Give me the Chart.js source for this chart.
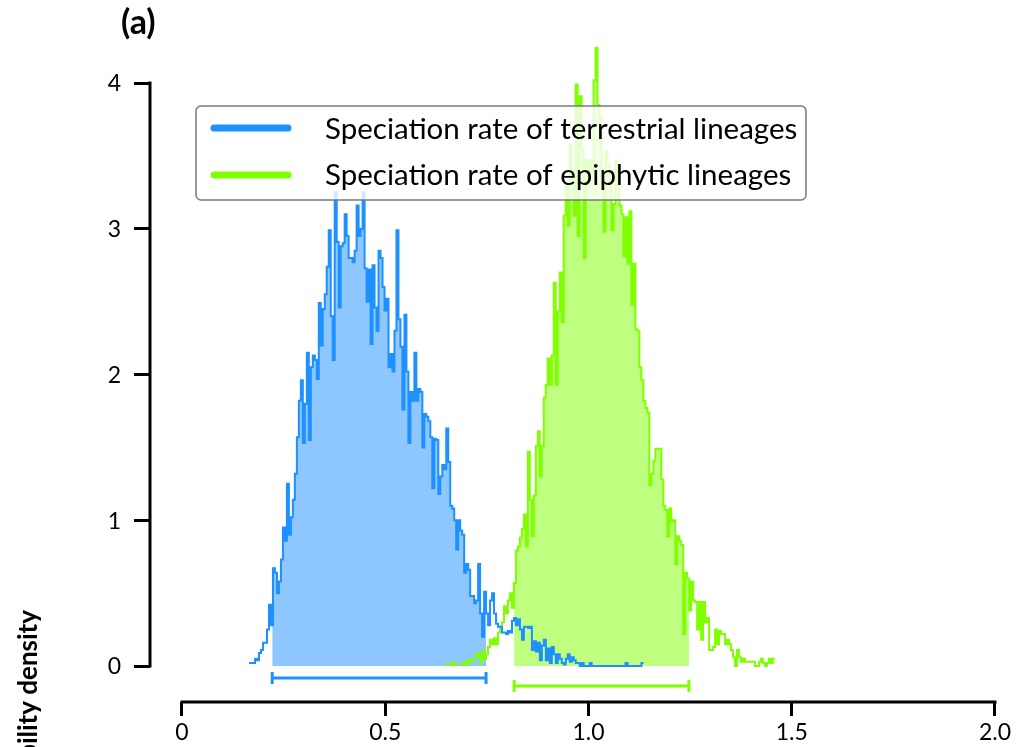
<!DOCTYPE html>
<html>
<head>
<meta charset="utf-8">
<title>Speciation rates</title>
<script src="https://cdn.jsdelivr.net/npm/chart.js@4.4.1/dist/chart.umd.min.js"></script>
<style>
    html, body { margin: 0; padding: 0; background: #fff; }
    #wrap { width: 1018px; height: 747px; position: relative; }
</style>
</head>
<body>
<div id="wrap"><canvas id="rateChart"></canvas></div>
<script>
// ================================
// Binned posterior densities
// ================================
const binWidth = 0.0049;

const terrestrialStart = 0.165;
const terrestrialDensity = [
    0.02, 0.02, 0.02, 0.05, 0.04, 0.09, 0.11, 0.16, 0.16, 0.25,
    0.42, 0.28, 0.67, 0.64, 0.50, 0.58, 0.73, 0.95, 0.86, 1.25,
    0.90, 1.02, 1.14, 1.32, 1.57, 1.82, 1.96, 1.53, 1.80, 2.15,
    1.55, 2.05, 2.13, 2.10, 1.97, 2.49, 2.20, 2.45, 2.55, 2.74,
    2.99, 2.40, 2.10, 3.25, 2.91, 2.46, 2.88, 2.90, 3.10, 2.95,
    2.80, 2.80, 2.77, 2.85, 3.16, 2.95, 3.00, 3.25, 2.73, 2.50,
    2.72, 2.21, 2.75, 2.46, 2.30, 2.85, 2.80, 2.60, 2.44, 2.52,
    2.05, 2.14, 2.02, 2.30, 2.99, 2.38, 2.19, 1.76, 2.41, 2.02,
    1.53, 1.88, 1.82, 2.15, 1.82, 1.90, 1.88, 1.50, 1.73, 1.71,
    1.68, 1.57, 1.22, 1.56, 1.55, 1.18, 1.30, 1.38, 1.35, 1.63,
    1.40, 1.10, 1.08, 1.00, 0.80, 1.00, 0.93, 0.90, 0.64, 0.70,
    0.66, 0.48, 0.48, 0.43, 0.45, 0.70, 0.36, 0.20, 0.51, 0.36,
    0.28, 0.45, 0.50, 0.36, 0.29, 0.27, 0.27, 0.23, 0.23, 0.22,
    0.24, 0.23, 0.31, 0.33, 0.28, 0.32, 0.25, 0.18, 0.27, 0.27,
    0.26, 0.27, 0.11, 0.17, 0.10, 0.16, 0.04, 0.14, 0.18, 0.04,
    0.12, 0.02, 0.13, 0.08, 0.02, 0.08, 0.05, 0.02, 0.01, 0.05,
    0.08, 0.03, 0.06, 0.04, 0.02, 0.02, 0.00, 0.02, 0.00, 0.00,
    0.00, 0.02, 0.00, 0.00, 0.00, 0.00, 0.00, 0.00, 0.00, 0.00,
    0.00, 0.00, 0.00, 0.00, 0.00, 0.00, 0.00, 0.00, 0.00, 0.02,
    0.00, 0.00, 0.00, 0.00, 0.00, 0.00, 0.00, 0.02
];

const epiphyticStart = 0.645;
const epiphyticDensity = [
    0.01, 0.01, 0.01, 0.01, 0.03, 0.01, 0.01, 0.01, 0.01, 0.01,
    0.03, 0.01, 0.04, 0.03, 0.05, 0.05, 0.09, 0.07, 0.02, 0.11,
    0.05, 0.08, 0.13, 0.18, 0.15, 0.19, 0.15, 0.23, 0.27, 0.30,
    0.41, 0.36, 0.45, 0.50, 0.40, 0.57, 0.79, 0.82, 0.88, 0.94,
    1.04, 0.82, 1.47, 1.14, 0.89, 1.17, 1.51, 1.61, 1.30, 1.51,
    1.84, 1.93, 2.11, 1.93, 2.13, 2.63, 1.93, 2.43, 2.70, 2.36,
    3.09, 3.31, 3.02, 3.58, 3.40, 3.09, 3.99, 2.95, 3.91, 3.55,
    2.80, 3.47, 3.30, 3.47, 3.40, 4.02, 4.24, 3.85, 3.77, 3.36,
    2.98, 3.53, 3.45, 3.30, 2.99, 3.17, 3.47, 3.30, 3.16, 3.10,
    2.81, 3.08, 2.76, 3.12, 2.48, 2.76, 2.31, 2.30, 2.05, 1.96,
    1.82, 1.77, 1.74, 1.24, 1.32, 1.41, 1.49, 1.49, 1.49, 1.28,
    1.10, 1.07, 0.89, 1.08, 0.99, 1.00, 0.70, 0.89, 0.86, 0.83,
    0.22, 0.64, 0.60, 0.38, 0.58, 0.45, 0.44, 0.25, 0.44, 0.18,
    0.44, 0.30, 0.33, 0.11, 0.11, 0.13, 0.25, 0.15, 0.24, 0.22,
    0.22, 0.15, 0.18, 0.15, 0.11, 0.06, 0.00, 0.11, 0.06, 0.03,
    0.05, 0.03, 0.03, 0.03, 0.03, 0.03, 0.00, 0.00, 0.03, 0.05,
    0.02, 0.00, 0.02, 0.05, 0.02, 0.05
];

// 95% HPD intervals
const terrestrialHpd = [0.222, 0.748];
const epiphyticHpd = [0.817, 1.247];

const seriesNames = [
    "Speciation rate of terrestrial lineages",
    "Speciation rate of epiphytic lineages"
];

const xTicks = [0, 0.5, 1.0, 1.5, 2.0];
const xTickLabels = ["0", "0.5", "1.0", "1.5", "2.0"];
const yTicks = [0, 1, 2, 3, 4];

// ================================
// Styles
// ================================
const BLUE = "#1E90FF";
const BLUE_FILL = "rgba(30, 144, 255, 0.5)";
const GREEN = "#7FFF00";
const GREEN_FILL = "rgba(127, 255, 0, 0.5)";
const FONT = "Lato, 'Open Sans', sans-serif";

// step outline: one point per bin edge, plus the closing edge
function histPoints(start, values) {
    const pts = values.map((v, i) => ({ x: start + i * binWidth, y: v }));
    pts.push({ x: start + values.length * binWidth, y: values[values.length - 1] });
    return pts;
}

// same histogram cut to the HPD interval (for the shaded area)
function hpdPoints(start, values, range) {
    const binAt = x => Math.min(values.length - 1, Math.max(0, Math.floor((x - start) / binWidth)));
    const pts = [{ x: range[0], y: values[binAt(range[0])] }];
    values.forEach((v, i) => {
        const x = start + i * binWidth;
        if (x > range[0] && x < range[1]) pts.push({ x: x, y: v });
    });
    pts.push({ x: range[1], y: values[binAt(range[1])] });
    return pts;
}

function hpdBar(range, level, color) {
    return {
        data: [{ x: range[0], y: level }, { x: range[1], y: level }],
        borderColor: color,
        borderWidth: 3,
        pointStyle: "line",
        rotation: 90,
        pointRadius: 6,
        pointBorderWidth: 3,
        pointBorderColor: color,
        fill: false
    };
}

// ================================
// Axis lines, y labels, panel letter, y title, legend
// ================================
const decorations = {
    id: "decorations",
    afterDraw(chart) {
        const { ctx, chartArea, scales: { x, y } } = chart;
        ctx.save();

        // axis lines only span the tick range
        ctx.strokeStyle = "#000";
        ctx.lineWidth = 3;
        ctx.lineCap = "square";
        ctx.beginPath();
        ctx.moveTo(chartArea.left, y.getPixelForValue(yTicks[0]));
        ctx.lineTo(chartArea.left, y.getPixelForValue(yTicks[yTicks.length - 1]));
        ctx.moveTo(x.getPixelForValue(xTicks[0]), chartArea.bottom);
        ctx.lineTo(x.getPixelForValue(xTicks[xTicks.length - 1]), chartArea.bottom);
        ctx.stroke();

        // y tick labels
        ctx.fillStyle = "#000";
        ctx.font = "23px " + FONT;
        ctx.textAlign = "right";
        ctx.textBaseline = "middle";
        y.ticks.forEach(t => {
            ctx.fillText(String(t.value), chartArea.left - 29, y.getPixelForValue(t.value) + 1);
        });

        // panel letter
        ctx.font = "bold 34px " + FONT;
        ctx.textAlign = "left";
        ctx.textBaseline = "alphabetic";
        ctx.fillText("(a)", 121, 34);

        // y title (runs off the bottom edge)
        ctx.save();
        ctx.translate(37, 610);
        ctx.rotate(-Math.PI / 2);
        ctx.textAlign = "right";
        ctx.font = "bold 26px " + FONT;
        ctx.fillText("Probability density", 0, 0);
        ctx.restore();

        // legend box
        const box = { left: 196, top: 106, w: 610, h: 94, r: 5 };
        ctx.beginPath();
        ctx.roundRect(box.left, box.top, box.w, box.h, box.r);
        ctx.fillStyle = "rgba(255, 255, 255, 0.8)";
        ctx.fill();
        ctx.strokeStyle = "#7a7a7a";
        ctx.lineWidth = 1.5;
        ctx.stroke();

        const rows = [
            { color: BLUE, y: 128, base: 139 },
            { color: GREEN, y: 175, base: 185 }
        ];
        rows.forEach((row, i) => {
            ctx.strokeStyle = row.color;
            ctx.lineWidth = 7;
            ctx.lineCap = "round";
            ctx.beginPath();
            ctx.moveTo(214, row.y);
            ctx.lineTo(288, row.y);
            ctx.stroke();
            ctx.fillStyle = "#000";
            ctx.font = "29.5px " + FONT;
            ctx.textAlign = "left";
            ctx.fillText(seriesNames[i], 325, row.base);
        });

        ctx.restore();
    }
};

// ================================
// Chart
// ================================
const ctx = document.getElementById("rateChart");
new Chart(ctx, {
    type: "line",
    data: {
        datasets: [
            {
                label: seriesNames[0],
                data: histPoints(terrestrialStart, terrestrialDensity),
                borderColor: BLUE,
                borderWidth: 2,
                stepped: true,
                pointRadius: 0,
                fill: false
            },
            {
                label: seriesNames[1],
                data: histPoints(epiphyticStart, epiphyticDensity),
                borderColor: GREEN,
                borderWidth: 2,
                stepped: true,
                pointRadius: 0,
                fill: false
            },
            {
                data: hpdPoints(terrestrialStart, terrestrialDensity, terrestrialHpd),
                borderWidth: 0,
                backgroundColor: BLUE_FILL,
                stepped: true,
                pointRadius: 0,
                fill: "origin"
            },
            {
                data: hpdPoints(epiphyticStart, epiphyticDensity, epiphyticHpd),
                borderWidth: 0,
                backgroundColor: GREEN_FILL,
                stepped: true,
                pointRadius: 0,
                fill: "origin"
            },
            hpdBar(terrestrialHpd, -0.082, BLUE),
            hpdBar(epiphyticHpd, -0.137, GREEN)
        ]
    },
    options: {
        responsive: true,
        maintainAspectRatio: false,
        animation: false,
        devicePixelRatio: 1,
        layout: { autoPadding: false, padding: { top: 30, right: 0, left: 0, bottom: 0 } },
        plugins: {
            legend: { display: false },
            tooltip: { enabled: false }
        },
        scales: {
            x: {
                type: "linear",
                min: -0.0787,
                max: 2.0566,
                afterFit: s => { s.height = 45; s.paddingLeft = 0; s.paddingRight = 0; },
                afterBuildTicks: s => { s.ticks = xTicks.map(v => ({ value: v })); },
                grid: { drawOnChartArea: false, tickLength: 14, lineWidth: 3, color: "#000" },
                border: { display: false },
                ticks: {
                    color: "#000",
                    font: { family: FONT, size: 23 },
                    padding: 3,
                    autoSkip: false,
                    maxRotation: 0,
                    callback: (v, i) => xTickLabels[i]
                }
            },
            y: {
                type: "linear",
                min: -0.247,
                max: 4.364,
                afterFit: s => { s.width = 150; s.paddingTop = 0; s.paddingBottom = 0; },
                afterBuildTicks: s => { s.ticks = yTicks.map(v => ({ value: v })); },
                grid: { drawOnChartArea: false, tickLength: 16, lineWidth: 3, color: "#000" },
                border: { display: false },
                ticks: { display: false }
            }
        }
    },
    plugins: [decorations]
});
</script>
</body>
</html>
